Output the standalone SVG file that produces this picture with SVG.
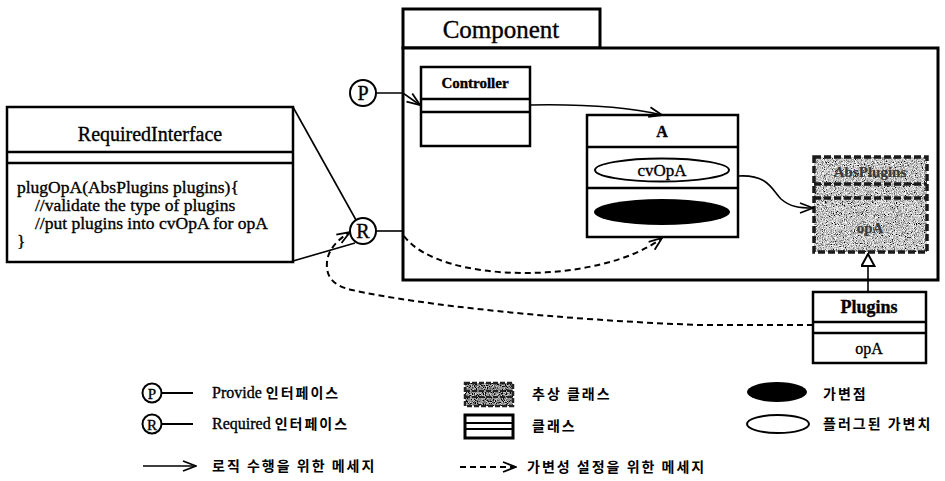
<svg xmlns="http://www.w3.org/2000/svg" width="945" height="481" viewBox="0 0 945 481">
  <style>
    .box { fill: #fff; stroke: #000; stroke-width: 2.5; }
    .frame { fill: #fff; stroke: #000; stroke-width: 3; }
    .sep { stroke: #000; stroke-width: 2.5; fill: none; }
    .conn { fill: none; stroke: #000; stroke-width: 1.6; }
    .dash { fill: none; stroke: #000; stroke-width: 2; stroke-dasharray: 6 4; }
    .abs-edge { fill: none; stroke: #1a1a1a; stroke-width: 3.5; stroke-dasharray: 7 3; }
    .serif { font-family: "Liberation Serif", "Times New Roman", serif; fill: #000; stroke: #000; stroke-width: 0.35; }
    .ko { font-family: "Noto Sans CJK KR", "Noto Sans", sans-serif; font-size: 14px; font-weight: bold; letter-spacing: 2px; fill: #000; }
    .faint { fill: #3a3a3a; stroke: #3a3a3a; stroke-width: 0.2; }
    .port { fill: #fff; stroke: #000; stroke-width: 2; }
  </style>
  <defs>
    <filter id="grain" x="0" y="0" width="1" height="1">
      <feTurbulence type="fractalNoise" baseFrequency="1.1" numOctaves="2" seed="4" result="noise"/>
      <feColorMatrix in="noise" type="matrix" values="2.2 0 0 0 -0.55  2.2 0 0 0 -0.55  2.2 0 0 0 -0.55  0 0 0 0 1" result="grey"/>
      <feComposite in="grey" in2="SourceGraphic" operator="in"/>
    </filter>
    <filter id="grainDark" x="0" y="0" width="1" height="1">
      <feTurbulence type="fractalNoise" baseFrequency="1.1" numOctaves="2" seed="9" result="noise"/>
      <feColorMatrix in="noise" type="matrix" values="1.8 0 0 0 -0.65  1.8 0 0 0 -0.65  1.8 0 0 0 -0.65  0 0 0 0 1" result="grey"/>
      <feComposite in="grey" in2="SourceGraphic" operator="in"/>
    </filter>
    <marker id="open" viewBox="0 0 15 12" refX="14" refY="6" markerWidth="15" markerHeight="12" markerUnits="userSpaceOnUse" orient="auto">
      <path d="M1 1 L14 6 L1 11" fill="none" stroke="#000" stroke-width="1.8" stroke-dasharray="none"/>
    </marker>
    <marker id="tri" viewBox="0 0 14 15" refX="13" refY="7.5" markerWidth="14" markerHeight="15" markerUnits="userSpaceOnUse" orient="auto">
      <path d="M1 1 L13 7.5 L1 14 Z" fill="#fff" stroke="#000" stroke-width="2"/>
    </marker>
  </defs>

  <rect width="945" height="481" fill="#fff"/>

  <!-- component package frame -->
  <g id="component">
    <rect class="frame" x="403" y="9" width="197" height="39"/>
    <rect class="frame" x="403" y="48" width="535" height="232"/>
    <text class="serif" x="501" y="38" font-size="25" text-anchor="middle">Component</text>
  </g>

  <!-- Controller class -->
  <g id="controller">
    <rect class="box" x="421" y="67" width="109" height="79"/>
    <line class="sep" x1="421" y1="99" x2="530" y2="99"/>
    <line class="sep" x1="421" y1="112" x2="530" y2="112"/>
    <text class="serif" x="475" y="88" font-size="15" font-weight="bold" text-anchor="middle">Controller</text>
  </g>

  <!-- class A with plugged variant and variation point -->
  <g id="classA">
    <rect class="box" x="587" y="115" width="151" height="122"/>
    <line class="sep" x1="587" y1="147" x2="738" y2="147"/>
    <line class="sep" x1="587" y1="188" x2="738" y2="188"/>
    <text class="serif" x="662" y="137" font-size="16" font-weight="bold" text-anchor="middle">A</text>
    <ellipse cx="662" cy="170" rx="67" ry="11.5" fill="#fff" stroke="#000" stroke-width="2"/>
    <text class="serif" x="662" y="176" font-size="17" text-anchor="middle">cvOpA</text>
    <ellipse cx="662" cy="212" rx="68" ry="13" fill="#000"/>
  </g>

  <!-- abstract class AbsPlugins -->
  <g id="absPlugins">
    <rect x="814" y="157" width="113" height="95" fill="#aaa" filter="url(#grain)"/>
    <rect class="abs-edge" x="814" y="157" width="113" height="95"/>
    <line class="abs-edge" x1="814" y1="184" x2="927" y2="184"/>
    <line class="abs-edge" x1="814" y1="198" x2="927" y2="198"/>
    <text class="serif faint" x="870" y="177" font-size="15" font-weight="bold" text-anchor="middle">AbsPlugins</text>
    <text class="serif faint" x="870" y="233" font-size="15" font-weight="bold" text-anchor="middle">opA</text>
  </g>

  <!-- concrete Plugins class -->
  <g id="plugins">
    <rect class="box" x="813" y="292" width="113" height="71"/>
    <line class="sep" x1="813" y1="322" x2="926" y2="322"/>
    <line class="sep" x1="813" y1="333" x2="926" y2="333"/>
    <text class="serif" x="869" y="313" font-size="18" font-weight="bold" text-anchor="middle">Plugins</text>
    <text class="serif" x="869" y="354" font-size="16" text-anchor="middle">opA</text>
  </g>

  <!-- RequiredInterface class -->
  <g id="requiredInterface">
    <rect class="box" x="7" y="107" width="286" height="155"/>
    <line class="sep" x1="7" y1="152" x2="293" y2="152"/>
    <line class="sep" x1="7" y1="163" x2="293" y2="163"/>
    <text class="serif" x="150" y="141" font-size="20" text-anchor="middle">RequiredInterface</text>
    <text class="serif" font-size="17.5">
      <tspan x="17" y="193">plugOpA(AbsPlugins plugins){</tspan>
      <tspan x="35" y="211">//validate the type of plugins</tspan>
      <tspan x="35" y="229">//put plugins into cvOpA for opA</tspan>
      <tspan x="17" y="247">}</tspan>
    </text>
  </g>

  <!-- provided and required ports -->
  <g id="portP">
    <circle class="port" cx="363" cy="93" r="13"/>
    <text class="serif" x="363" y="100" font-size="20" text-anchor="middle">P</text>
  </g>
  <g id="portR">
    <circle class="port" cx="363" cy="231" r="13"/>
    <text class="serif" x="363" y="238" font-size="20" text-anchor="middle">R</text>
  </g>

  <!-- connectors -->
  <g id="connectors">
    <path class="conn" d="M376 93 L403 93 L420 105" marker-end="url(#open)"/>
    <path class="conn" d="M530 105 C 585 104, 628 107, 662 115" marker-end="url(#open)"/>
    <path class="conn" d="M738 176 C 768 174, 772 190, 781 199 C 790 207, 800 208, 813 208" marker-end="url(#open)"/>
    <path class="conn" d="M293 107 L356 220"/>
    <path class="conn" d="M293 261 L355 243"/>
    <path class="conn" d="M376 231 L403 231"/>
    <path class="dash" d="M404 236 C 440 285, 600 285, 662 238" marker-end="url(#open)"/>
    <path class="dash" d="M813 325 L700 325 C 560 320, 420 305, 352 290 C 330 285, 326 274, 327 262 C 328 250, 337 240, 350 232" marker-end="url(#open)"/>
    <path class="conn" d="M868 292 L868 254" stroke-width="2.2" marker-end="url(#tri)"/>
  </g>

  <!-- legend -->
  <g id="legend">
    <circle cx="152" cy="393" r="9.5" fill="#fff" stroke="#000" stroke-width="2"/>
    <text class="serif" x="152" y="398.5" font-size="15" text-anchor="middle">P</text>
    <line x1="161" y1="393" x2="193" y2="393" stroke="#000" stroke-width="2"/>
    <text x="212" y="398"><tspan class="serif" font-size="16">Provide </tspan><tspan class="ko">인터페이스</tspan></text>

    <circle cx="152" cy="424" r="9.5" fill="#fff" stroke="#000" stroke-width="2"/>
    <text class="serif" x="152" y="429.5" font-size="15" text-anchor="middle">R</text>
    <line x1="161" y1="424" x2="193" y2="424" stroke="#000" stroke-width="2"/>
    <text x="212" y="429"><tspan class="serif" font-size="16">Required </tspan><tspan class="ko">인터페이스</tspan></text>

    <path class="conn" d="M143 466 L196 466" marker-end="url(#open)"/>
    <text class="ko" x="212" y="471">로직 수행을 위한 메세지</text>

    <rect x="465" y="383" width="48" height="23" fill="#555" filter="url(#grainDark)"/>
    <rect x="465" y="383" width="48" height="23" fill="none" stroke="#222" stroke-width="2.5" stroke-dasharray="5 2"/>
    <line x1="465" y1="391" x2="513" y2="391" stroke="#222" stroke-width="2" stroke-dasharray="5 2"/>
    <line x1="465" y1="397" x2="513" y2="397" stroke="#222" stroke-width="2" stroke-dasharray="5 2"/>
    <text class="ko" x="532" y="399">추상 클래스</text>

    <rect x="465" y="415" width="48" height="23" fill="#fff" stroke="#000" stroke-width="3"/>
    <line x1="465" y1="423" x2="513" y2="423" stroke="#000" stroke-width="2"/>
    <line x1="465" y1="429" x2="513" y2="429" stroke="#000" stroke-width="2"/>
    <text class="ko" x="532" y="431">클래스</text>

    <path class="dash" d="M460 467 L516 467" stroke-dasharray="4 3" marker-end="url(#open)"/>
    <text class="ko" x="527" y="472">가변성 설정을 위한 메세지</text>

    <ellipse cx="777" cy="392" rx="30" ry="10" fill="#000"/>
    <text class="ko" x="823" y="399">가변점</text>

    <ellipse cx="778" cy="424" rx="31" ry="9" fill="#fff" stroke="#000" stroke-width="2"/>
    <text class="ko" x="823" y="429">플러그된 가변치</text>
  </g>
</svg>
